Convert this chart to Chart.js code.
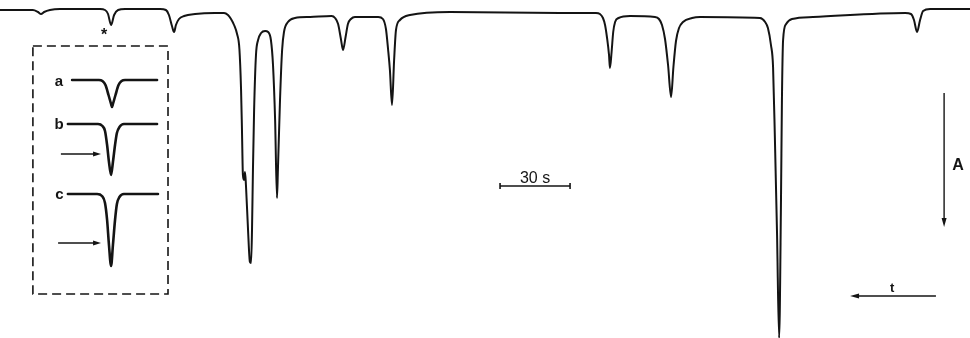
<!DOCTYPE html>
<html>
<head>
<meta charset="utf-8">
<style>
  html, body { margin: 0; padding: 0; background: #fff; }
  #wrap { width: 970px; height: 338px; position: relative; }
</style>
<script src="https://cdn.jsdelivr.net/npm/chart.js@4/dist/chart.umd.min.js"></script>
</head>
<body>
<div id="wrap"><canvas id="trace"></canvas></div>
<script>
// Recorder trace: time in seconds, absorbance (deflection) in AU
const traceTime = [
  0, 10.7, 14.1, 16.3, 17.6, 18.9, 21.4, 25.7, 42.9, 45.0, 46.3, 47.6, 48.9, 50.6, 53.6,
  68.6, 71.1, 72.4, 73.7, 74.6, 75.4, 76.7, 78.9, 83.6, 92.1, 96.0, 97.7, 99.0, 100.3, 101.6,
  102.6, 103.3, 103.7, 104.1, 104.6, 105.0, 105.4, 106.3, 107.1, 107.6, 108.0, 108.4,
  108.9, 109.7, 110.6, 111.9, 113.6, 114.9, 116.1, 117.0, 117.9, 118.7, 119.1, 120.0,
  120.9, 121.7, 123.4, 126.4, 132.9, 142.1, 143.6, 144.9, 146.1, 147.0, 148.1, 149.1, 150.4, 152.1,
  162.1, 164.1, 165.4, 166.3, 167.1, 168.0, 168.9, 169.7, 171.4, 175.7, 192.9, 240.0, 255.4,
  257.1, 258.4, 259.3, 260.1, 261.0, 261.4, 262.1, 262.8, 263.6, 265.1, 270.0, 280.7, 282.4, 283.7, 285.0, 286.3,
  287.6, 288.6, 289.7, 291.0, 292.7, 296.6, 300.0, 325.7, 327.9, 329.1, 330.4, 331.3, 332.1,
  333.0, 333.9, 334.7, 335.1, 335.6, 336.9, 339.4, 348.4, 387.9, 390.4, 391.7, 393.0,
  394.3, 395.6, 398.6, 415.7
];
const traceAbs = [
  0.001, 0.001, 0.001, 0.003, 0.005, 0.003, 0.001, 0.000, 0.000, 0.001, 0.005, 0.016, 0.006, 0.001, 0.000,
  0.000, 0.001, 0.006, 0.017, 0.023, 0.016, 0.010, 0.007, 0.005, 0.004, 0.004, 0.006, 0.010, 0.016, 0.025,
  0.040, 0.080, 0.121, 0.166, 0.171, 0.163, 0.176, 0.221, 0.253, 0.254, 0.221, 0.161,
  0.101, 0.046, 0.031, 0.024, 0.022, 0.023, 0.031, 0.056, 0.111, 0.189, 0.161, 0.091,
  0.041, 0.023, 0.013, 0.009, 0.008, 0.007, 0.009, 0.015, 0.030, 0.041, 0.028, 0.015, 0.010, 0.008,
  0.008, 0.010, 0.020, 0.040, 0.061, 0.096, 0.051, 0.021, 0.011, 0.006, 0.003, 0.004, 0.004,
  0.005, 0.009, 0.016, 0.028, 0.046, 0.059, 0.043, 0.023, 0.013, 0.009, 0.007, 0.008, 0.010, 0.016, 0.030, 0.056,
  0.088, 0.058, 0.032, 0.019, 0.013, 0.009, 0.008, 0.009, 0.013, 0.019, 0.036, 0.058, 0.131,
  0.224, 0.329, 0.191, 0.091, 0.031, 0.015, 0.010, 0.008, 0.004, 0.005, 0.011, 0.023,
  0.011, 0.002, 0.000, 0.000
];

// Inset peaks a, b, c
const insetTimeA = [30.9, 42.4, 43.9, 45.2, 46.5, 47.6, 48.0, 48.4, 49.5, 50.8, 52.1, 53.6, 67.3];
const insetAbsA  = [0.071, 0.071, 0.072, 0.076, 0.086, 0.095, 0.098, 0.095, 0.086, 0.076, 0.072, 0.071, 0.071];
const insetTimeB = [29.1, 42.0, 43.9, 45.0, 45.9, 46.7, 47.6, 48.4, 49.3, 50.1, 51.2, 53.1, 67.3];
const insetAbsB  = [0.115, 0.115, 0.117, 0.122, 0.136, 0.153, 0.166, 0.153, 0.136, 0.124, 0.118, 0.115, 0.115];
const insetTimeC = [29.1, 41.6, 43.7, 45.0, 45.9, 46.7, 47.6, 48.4, 49.3, 50.1, 51.2, 53.1, 67.7];
const insetAbsC  = [0.185, 0.185, 0.187, 0.194, 0.211, 0.236, 0.257, 0.236, 0.211, 0.195, 0.188, 0.185, 0.185];

const insetLabels = ['a', 'b', 'c'];
const scaleBarSeconds = 30;
const scaleBarLabel = '30 s';

const toPoints = (ts, vs) => ts.map((t, i) => ({ x: t, y: vs[i] }));

const INK = '#141414';
const FONT = '"Liberation Sans", "DejaVu Sans", Arial, sans-serif';

// Annotations drawn on top of the trace, positioned in data units
const notes = {
  box: { t0: 14.1, t1: 72.0, a0: 0.037, a1: 0.285 },
  labels: [
    { text: insetLabels[0], t: 25.3, a: 0.073 },
    { text: insetLabels[1], t: 25.3, a: 0.116 },
    { text: insetLabels[2], t: 25.5, a: 0.186 }
  ],
  insetArrows: [
    { t0: 26.1, t1: 43.3, a: 0.145 },
    { t0: 24.9, t1: 43.3, a: 0.234 }
  ],
  star: { t: 44.6, a: 0.023 },
  scaleBar: { t0: 214.3, a: 0.177 },
  absArrow: { t: 404.6, a0: 0.084, a1: 0.218, labelT: 410.6, labelA: 0.157 },
  timeArrow: { t0: 401.1, t1: 364.3, a: 0.287, labelT: 382.3, labelA: 0.279 }
};

function arrowHead(ctx, x, y, dx, dy, len, half) {
  const n = Math.hypot(dx, dy), ux = dx / n, uy = dy / n;
  ctx.beginPath();
  ctx.moveTo(x, y);
  ctx.lineTo(x - ux * len - uy * half, y - uy * len + ux * half);
  ctx.lineTo(x - ux * len + uy * half, y - uy * len - ux * half);
  ctx.closePath();
  ctx.fill();
}

const annotate = {
  id: 'annotate',
  afterDatasetsDraw(chart) {
    const { ctx } = chart;
    const X = v => chart.scales.x.getPixelForValue(v);
    const Y = v => chart.scales.y.getPixelForValue(v);
    ctx.save();
    ctx.strokeStyle = INK;
    ctx.fillStyle = INK;

    // dashed frame round the inset
    const b = notes.box;
    ctx.lineWidth = 1.6;
    ctx.setLineDash([9, 5]);
    ctx.strokeRect(X(b.t0), Y(b.a0), X(b.t1) - X(b.t0), Y(b.a1) - Y(b.a0));
    ctx.setLineDash([]);

    // inset labels
    ctx.font = 'bold 15px ' + FONT;
    ctx.textAlign = 'center';
    ctx.textBaseline = 'middle';
    notes.labels.forEach(l => ctx.fillText(l.text, X(l.t), Y(l.a)));

    // inset arrows
    ctx.lineWidth = 1.4;
    notes.insetArrows.forEach(ar => {
      ctx.beginPath();
      ctx.moveTo(X(ar.t0), Y(ar.a));
      ctx.lineTo(X(ar.t1) - 5, Y(ar.a));
      ctx.stroke();
      arrowHead(ctx, X(ar.t1), Y(ar.a), 1, 0, 8, 2.5);
    });

    // star marker
    ctx.font = 'bold 16px ' + FONT;
    ctx.fillText('*', X(notes.star.t), Y(notes.star.a) + 4);

    // 30 s scale bar
    const sb = notes.scaleBar;
    const sx0 = X(sb.t0), sx1 = X(sb.t0 + scaleBarSeconds), sy = Y(sb.a);
    ctx.lineWidth = 1.6;
    ctx.beginPath();
    ctx.moveTo(sx0, sy); ctx.lineTo(sx1, sy);
    ctx.moveTo(sx0, sy - 3); ctx.lineTo(sx0, sy + 3);
    ctx.moveTo(sx1, sy - 3); ctx.lineTo(sx1, sy + 3);
    ctx.stroke();
    ctx.font = '16px ' + FONT;
    ctx.textBaseline = 'alphabetic';
    ctx.fillText(scaleBarLabel, (sx0 + sx1) / 2, sy - 3);

    // absorbance arrow
    const aa = notes.absArrow;
    ctx.lineWidth = 1.4;
    ctx.beginPath();
    ctx.moveTo(X(aa.t), Y(aa.a0));
    ctx.lineTo(X(aa.t), Y(aa.a1) - 5);
    ctx.stroke();
    arrowHead(ctx, X(aa.t), Y(aa.a1), 0, 1, 9, 2.5);
    ctx.font = 'bold 16px ' + FONT;
    ctx.textBaseline = 'middle';
    ctx.fillText('A', X(aa.labelT), Y(aa.labelA));

    // time direction arrow
    const ta = notes.timeArrow;
    ctx.beginPath();
    ctx.moveTo(X(ta.t0), Y(ta.a));
    ctx.lineTo(X(ta.t1) + 5, Y(ta.a));
    ctx.stroke();
    arrowHead(ctx, X(ta.t1), Y(ta.a), -1, 0, 9, 2.5);
    ctx.font = 'bold 13px ' + FONT;
    ctx.fillText('t', X(ta.labelT), Y(ta.labelA));

    ctx.restore();
  }
};

const lineStyle = (w) => ({
  borderColor: INK,
  borderWidth: w,
  pointRadius: 0,
  fill: false,
  cubicInterpolationMode: 'monotone',
  borderCapStyle: 'round',
  borderJoinStyle: 'round'
});

new Chart(document.getElementById('trace'), {
  type: 'line',
  data: {
    datasets: [
      { label: 'trace', data: toPoints(traceTime, traceAbs), ...lineStyle(2) },
      { label: insetLabels[0], data: toPoints(insetTimeA, insetAbsA), ...lineStyle(2.6) },
      { label: insetLabels[1], data: toPoints(insetTimeB, insetAbsB), ...lineStyle(2.6) },
      { label: insetLabels[2], data: toPoints(insetTimeC, insetAbsC), ...lineStyle(2.6) }
    ]
  },
  options: {
    responsive: true,
    maintainAspectRatio: false,
    animation: false,
    layout: { padding: 0 },
    clip: false,
    plugins: { legend: { display: false }, tooltip: { enabled: false } },
    scales: {
      x: { type: 'linear', min: 0, max: 415.7, display: false },
      y: { type: 'linear', min: -0.009, max: 0.329, reverse: true, display: false }
    }
  },
  plugins: [annotate]
});
</script>
</body>
</html>
